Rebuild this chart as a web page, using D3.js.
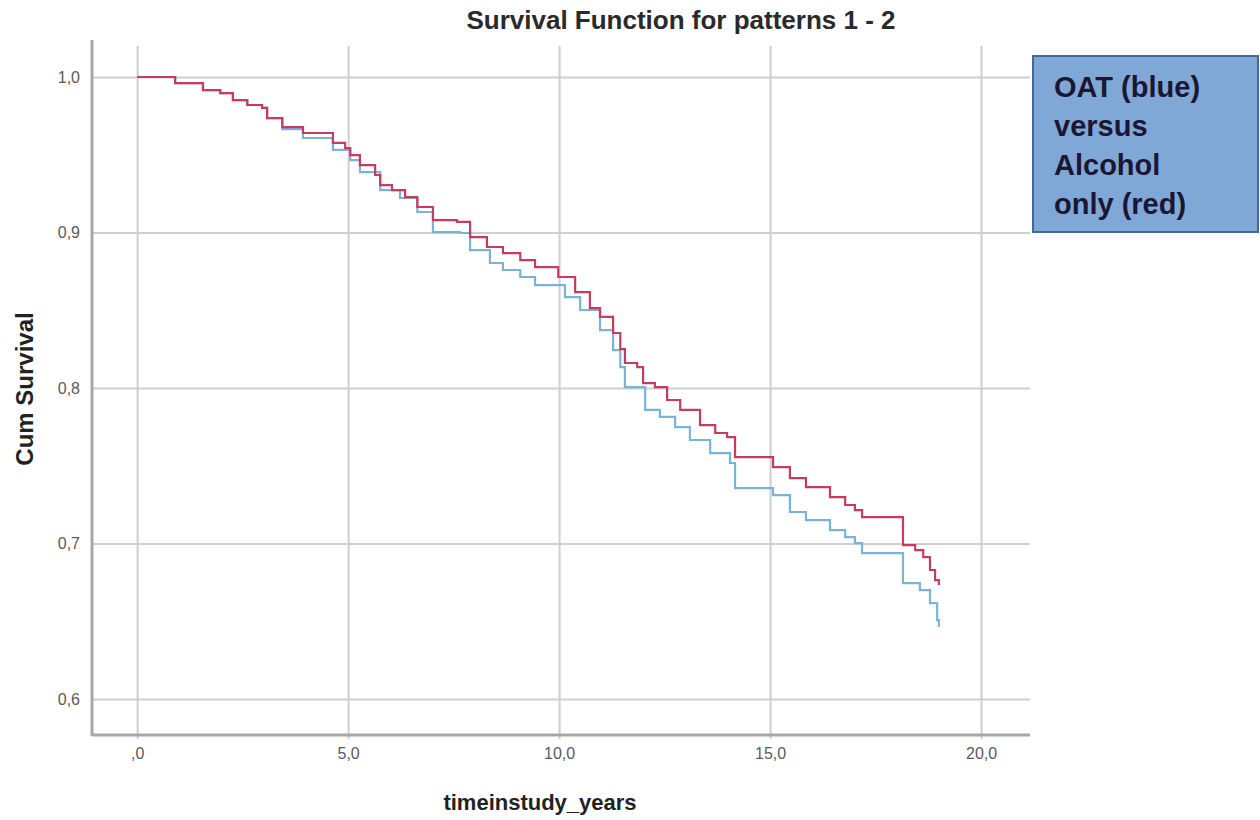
<!DOCTYPE html>
<html>
<head>
<meta charset="utf-8">
<script src="https://cdn.jsdelivr.net/npm/d3@7"></script>
<style>
  body { margin: 0; background: #fff; }
  svg { display: block; }
</style>
</head>
<body>
<svg width="1260" height="820"></svg>
<script>
// Kaplan-Meier steps: [time in years, cum survival]
var alcoholOnly = [
    [0, 1.0], [0.90, 0.9961], [1.56, 0.9916], [1.97, 0.9897], [2.27, 0.9852],
    [2.61, 0.9820], [2.96, 0.9801], [3.08, 0.9736], [3.44, 0.9678], [3.93, 0.9640],
    [4.64, 0.9576], [4.93, 0.9543], [5.05, 0.9498], [5.28, 0.9434], [5.64, 0.9370],
    [5.76, 0.9305], [6.04, 0.9273], [6.35, 0.9228], [6.64, 0.9164], [7.01, 0.9080],
    [7.58, 0.9068], [7.89, 0.8971], [8.29, 0.8907], [8.67, 0.8868], [9.08, 0.8823],
    [9.43, 0.8778], [9.98, 0.8714], [10.38, 0.8617], [10.73, 0.8514], [10.97, 0.8457],
    [11.28, 0.8354], [11.45, 0.8250], [11.56, 0.8161], [11.85, 0.8135], [11.99, 0.8032],
    [12.27, 0.8006], [12.56, 0.7923], [12.87, 0.7859], [13.34, 0.7762], [13.70, 0.7711],
    [13.98, 0.7685], [14.17, 0.7556], [15.07, 0.7492], [15.47, 0.7421], [15.85, 0.7363],
    [16.42, 0.7299], [16.78, 0.7248], [17.01, 0.7215], [17.18, 0.7170], [18.15, 0.6990],
    [18.44, 0.6958], [18.63, 0.6913], [18.79, 0.6830], [18.91, 0.6765], [19.00, 0.6733]
];
var oat = [
    [0, 1.0], [0.90, 0.9961], [1.56, 0.9916], [1.97, 0.9897], [2.27, 0.9852],
    [2.61, 0.9820], [2.96, 0.9801], [3.08, 0.9736], [3.44, 0.9665], [3.93, 0.9608],
    [4.64, 0.9531], [5.05, 0.9466], [5.28, 0.9389], [5.76, 0.9273], [6.23, 0.9222],
    [6.64, 0.9132], [7.01, 0.9003], [7.65, 0.8997], [7.89, 0.8887], [8.36, 0.8804],
    [8.67, 0.8759], [9.08, 0.8714], [9.43, 0.8662], [10.14, 0.8585], [10.50, 0.8502],
    [10.97, 0.8373], [11.28, 0.8244], [11.45, 0.8135], [11.56, 0.8006], [12.04, 0.7859],
    [12.39, 0.7814], [12.75, 0.7749], [13.10, 0.7666], [13.58, 0.7582], [14.05, 0.7518],
    [14.17, 0.7357], [15.07, 0.7312], [15.47, 0.7203], [15.85, 0.7151], [16.42, 0.7087],
    [16.78, 0.7042], [17.01, 0.7003], [17.18, 0.6939], [18.15, 0.6746], [18.55, 0.6701],
    [18.79, 0.6617], [18.96, 0.6508], [19.00, 0.6463]
];
var xTicks = [0, 5, 10, 15, 20];
var yTicks = [0.6, 0.7, 0.8, 0.9, 1.0];
var legendLines = ['OAT (blue)', 'versus', 'Alcohol', 'only (red)'];

var svg = d3.select('svg');
var plotLeft = 92, plotRight = 1030, plotTop = 40, plotBottom = 735;
var font = 'Liberation Sans, Arial, sans-serif';

var x = d3.scaleLinear().domain([-1.07, 21.16]).range([plotLeft, plotRight]);
var y = d3.scaleLinear().domain([0.5769, 1.0238]).range([plotBottom, plotTop]);

// spss style decimal comma, ",0" for zero
function fmtX(d) {
    var s = d3.format('.1f')(d).replace('.', ',');
    return d === 0 ? s.slice(1) : s;
}
function fmtY(d) { return d3.format('.1f')(d).replace('.', ','); }

// grid lines
var gridH = plotBottom - plotTop;
svg.append('g')
    .attr('transform', 'translate(0,' + (plotBottom + 4) + ')')
    .call(d3.axisTop(x).tickValues(xTicks).tickSize(gridH - 2).tickFormat(''))
    .call(g => g.select('.domain').remove())
    .call(g => g.selectAll('line').attr('stroke', '#cfcfcf').attr('stroke-width', 2));
svg.append('g')
    .attr('transform', 'translate(' + plotLeft + ',0)')
    .call(d3.axisRight(y).tickValues(yTicks).tickSize(plotRight - plotLeft).tickFormat(''))
    .call(g => g.select('.domain').remove())
    .call(g => g.selectAll('line').attr('stroke', '#cfcfcf').attr('stroke-width', 2));

// axis lines
svg.append('line').attr('x1', plotLeft).attr('x2', plotLeft).attr('y1', plotTop).attr('y2', plotBottom + 1)
    .attr('stroke', '#a8a8a8').attr('stroke-width', 3);
svg.append('line').attr('x1', plotLeft).attr('x2', plotRight).attr('y1', plotBottom).attr('y2', plotBottom)
    .attr('stroke', '#a8a8a8').attr('stroke-width', 3);

// tick labels
svg.append('g')
    .attr('transform', 'translate(0,' + (plotBottom + 10) + ')')
    .call(d3.axisBottom(x).tickValues(xTicks).tickSize(0).tickFormat(fmtX))
    .call(g => g.select('.domain').remove())
    .call(g => g.selectAll('text').attr('font-family', font)
        .attr('font-size', 16).attr('fill', '#5a5a5a'));
svg.append('g')
    .attr('transform', 'translate(' + (plotLeft - 9) + ',0)')
    .call(d3.axisLeft(y).tickValues(yTicks).tickSize(0).tickFormat(fmtY))
    .call(g => g.select('.domain').remove())
    .call(g => g.selectAll('text').attr('font-family', font)
        .attr('font-size', 16).attr('fill', '#5a5a5a'));

// survival curves
var line = d3.line()
    .x(d => x(d[0]))
    .y(d => y(d[1]))
    .curve(d3.curveStepAfter);
svg.append('path').datum(oat)
    .attr('d', line).attr('fill', 'none')
    .attr('stroke', '#7ab3d6').attr('stroke-width', 2.2);
svg.append('path').datum(alcoholOnly)
    .attr('d', line).attr('fill', 'none')
    .attr('stroke', '#c63c60').attr('stroke-width', 2.2);

// titles
svg.append('text')
    .attr('x', 681).attr('y', 29)
    .attr('text-anchor', 'middle')
    .attr('font-family', font)
    .attr('font-size', 26).attr('font-weight', 'bold').attr('fill', '#2a2a2a')
    .text('Survival Function for patterns 1 - 2');
svg.append('text')
    .attr('x', 540).attr('y', 810)
    .attr('text-anchor', 'middle')
    .attr('font-family', font)
    .attr('font-size', 22).attr('font-weight', 'bold').attr('fill', '#222')
    .text('timeinstudy_years');
svg.append('text')
    .attr('transform', 'translate(33,389) rotate(-90)')
    .attr('text-anchor', 'middle')
    .attr('font-family', font)
    .attr('font-size', 24).attr('font-weight', 'bold').attr('fill', '#222')
    .text('Cum Survival');

// legend box
var legend = svg.append('g').attr('transform', 'translate(1033,56)');
legend.append('rect')
    .attr('width', 225).attr('height', 176)
    .attr('fill', '#7fa8d6').attr('stroke', '#41699c').attr('stroke-width', 2);
legend.selectAll('text')
    .data(legendLines)
    .enter().append('text')
    .attr('x', 21)
    .attr('y', (d, i) => 41 + i * 39)
    .attr('font-family', font)
    .attr('font-size', 29).attr('font-weight', 'bold').attr('fill', '#1b1633')
    .text(d => d);
</script>
</body>
</html>
